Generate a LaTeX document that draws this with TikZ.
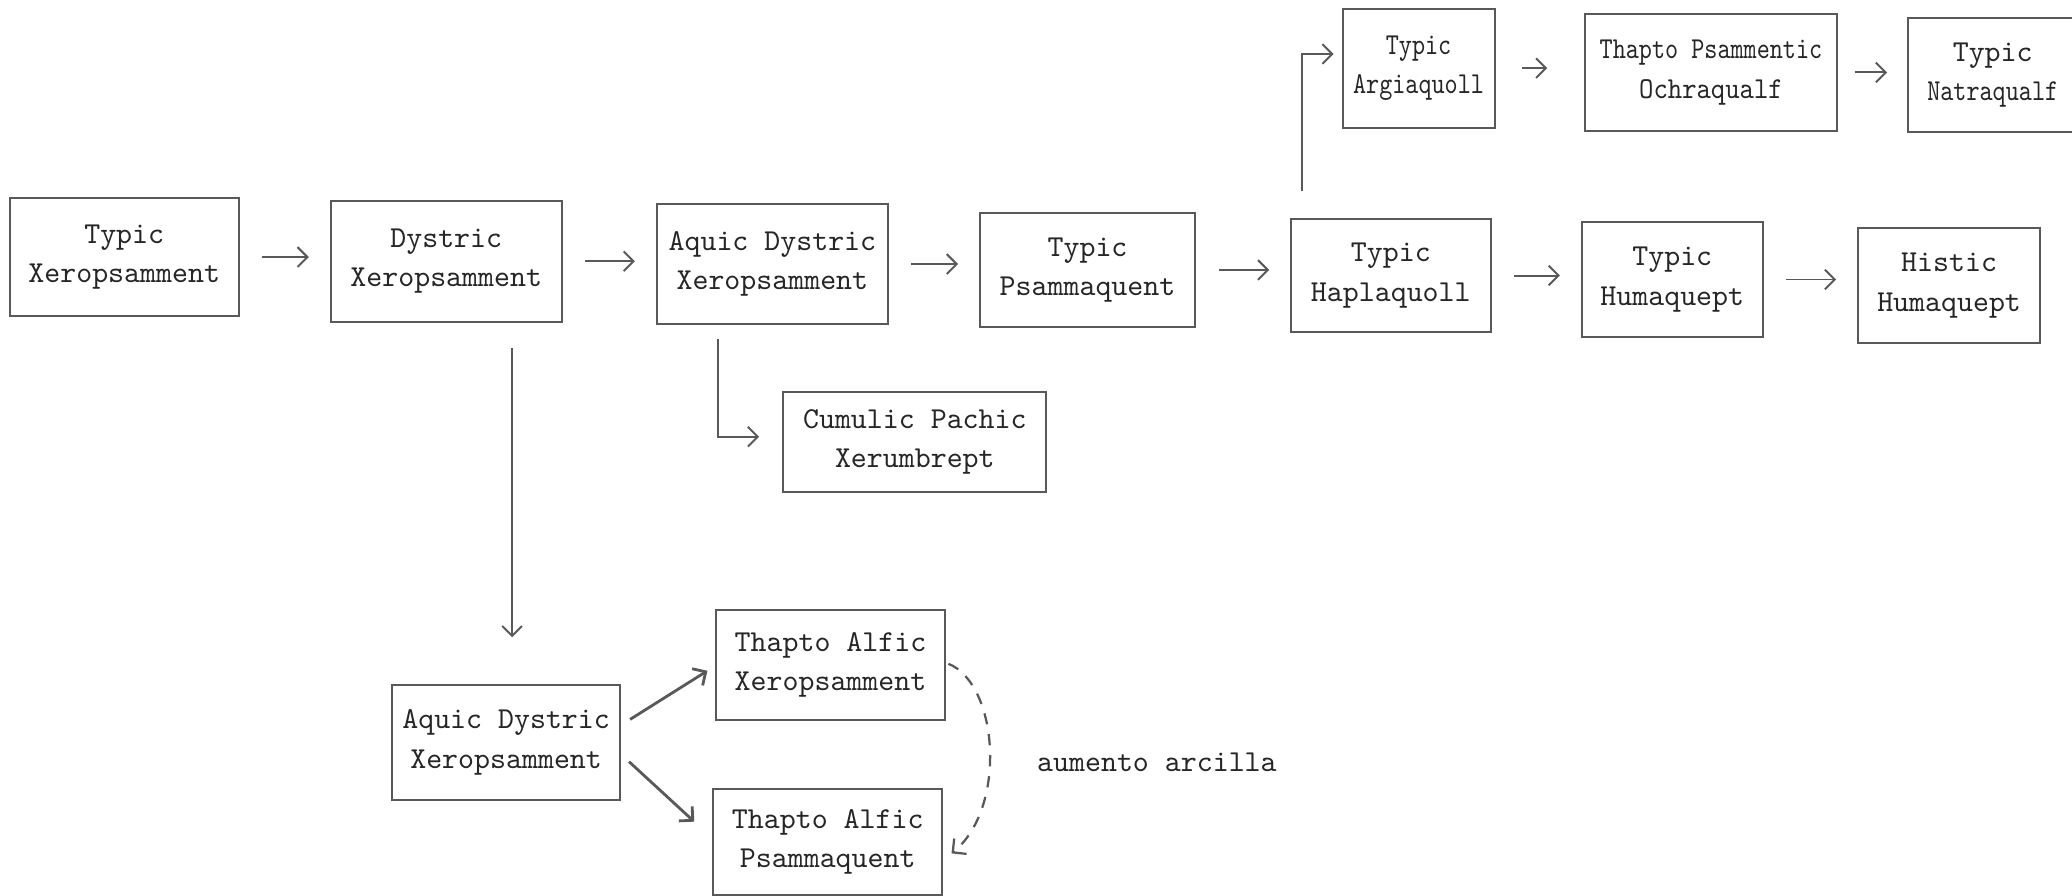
\documentclass[tikz,border=0pt]{standalone}
\usepackage{fontspec}
\usepackage{graphicx}
\usetikzlibrary{arrows.meta,calc}
\newcommand{\pxu}{0.0165cm}
\tikzset{
  box/.style={draw=black!65, line width=0.7pt, rectangle, inner sep=0pt, align=center,
    font=\fontsize{10.8}{14}\selectfont\ttfamily, text=black!85},
  lbl/.style={inner sep=0pt, font=\fontsize{10.8}{14}\selectfont\ttfamily, text=black!85},
  arr/.style={draw=black!65, line width=0.7pt, -{Straight Barb[length=3.5pt,width=7pt]},
    shorten <=0.28cm, shorten >=0.26cm},
  arrfree/.style={draw=black!65, line width=0.7pt, -{Straight Barb[length=3.5pt,width=7pt]}},
  dasharr/.style={draw=black!65, line width=0.8pt, dash pattern=on 4pt off 3.5pt,
    -{Straight Barb[length=3.5pt,width=7pt]}}
}
\newcommand{\condtxt}[1]{\scalebox{0.82}[1]{#1}}
\begin{document}
\begin{tikzpicture}[x=0.0165cm, y=-0.0165cm]
\useasboundingbox (0,0) rectangle (1568,678);
% boxes
\node[box, minimum width=173*\pxu, minimum height=89*\pxu] (b1) at (94,194.5) {Typic\\Xeropsamment};
\node[box, minimum width=175*\pxu, minimum height=91.5*\pxu] (b2) at (337.7,197.7) {Dystric\\Xeropsamment};
\node[box, minimum width=175*\pxu, minimum height=91*\pxu] (b3) at (584.5,199.8) {Aquic Dystric\\Xeropsamment};
\node[box, minimum width=163*\pxu, minimum height=86*\pxu] (b4) at (823,204.3) {Typic\\Psammaquent};
\node[box, minimum width=151*\pxu, minimum height=85*\pxu] (b5) at (1052.5,208.5) {Typic\\Haplaquoll};
\node[box, minimum width=137*\pxu, minimum height=87*\pxu] (b6) at (1265.5,211.5) {Typic\\Humaquept};
\node[box, minimum width=138*\pxu, minimum height=86.5*\pxu] (b7) at (1475,216) {Histic\\Humaquept};
\node[box, minimum width=115*\pxu, minimum height=90*\pxu] (b8) at (1073.5,51.5) {\condtxt{Typic}\\\condtxt{Argiaquoll}};
\node[box, minimum width=190.5*\pxu, minimum height=88.5*\pxu] (b9) at (1294.8,54.8) {\condtxt{Thapto Psammentic}\\\scalebox{0.9}[1]{Ochraqualf}};
\node[box, minimum width=128*\pxu, minimum height=86*\pxu] (b10) at (1508,56.8) {Typic\\\condtxt{Natraqualf}};
\node[box, minimum width=199*\pxu, minimum height=75.6*\pxu] (b11) at (692.3,334.2) {Cumulic Pachic\\Xerumbrept};
\node[box, minimum width=173*\pxu, minimum height=87*\pxu] (b12) at (383,561.9) {Aquic Dystric\\Xeropsamment};
\node[box, minimum width=173*\pxu, minimum height=83.5*\pxu] (b13) at (628.5,503.3) {Thapto Alfic\\Xeropsamment};
\node[box, minimum width=173*\pxu, minimum height=80*\pxu] (b14) at (626.4,637) {Thapto Alfic\\Psammaquent};
\node[lbl] (lab) at (875.5,577) {aumento arcilla};
% main row arrows
\draw[arr] (b1.east) -- (b1.east -| b2.west);
\draw[arr] (b2.east) -- (b2.east -| b3.west);
\draw[arr] (b3.east) -- (b3.east -| b4.west);
\draw[arr] (b4.east) -- (b4.east -| b5.west);
\draw[arr] (b5.east) -- (b5.east -| b6.west);
\draw[arr] (b6.east) -- (b6.east -| b7.west);
\draw[arr, shorten <=0.33cm, shorten >=0.46cm] (b8.east) -- (b8.east -| b9.west);
\draw[arr, shorten <=0.21cm, shorten >=0.25cm] (b9.east) -- (b9.east -| b10.west);
% branch 5 -> 8
\coordinate (c58) at ($(b5.north west)+(9.3,-21)$);
\coordinate (e58) at ($(b8.west)+(-6,-10.6)$);
\draw[arrfree] (c58) |- (e58);
% branch 3 -> 11
\coordinate (c311) at ($(b3.south west)+(47.3,10.8)$);
\coordinate (e311) at ($(b11.west)+(-17.6,-3.7)$);
\draw[arrfree] (c311) |- (e311);
% 2 -> 12
\coordinate (c212) at ($(b2.south)+(49.8,19)$);
\coordinate (e212) at ($(b12.north)+(4.5,-35.4)$);
\draw[arrfree] (c212) -- (c212 |- e212);
% 12 -> 13, 12 -> 14
\draw[arrfree, line width=1pt] ($(b12.east)+(6.6,-17.5)$) -- ($(b13.west)+(-5.9,4.3)$);
\draw[arrfree, line width=1pt] ($(b12.east)+(5.8,14.5)$) -- ($(b14.west)+(-13.8,-15.2)$);
% dashed curve 13 -> 14
\coordinate (d1) at ($(b13.east)+(2,-1)$);
\coordinate (d2) at ($(b14.east)+(6.4,8.8)$);
\draw[dasharr] (d1) .. controls (756,518) and (762,612) .. (d2);
\end{tikzpicture}
\end{document}
